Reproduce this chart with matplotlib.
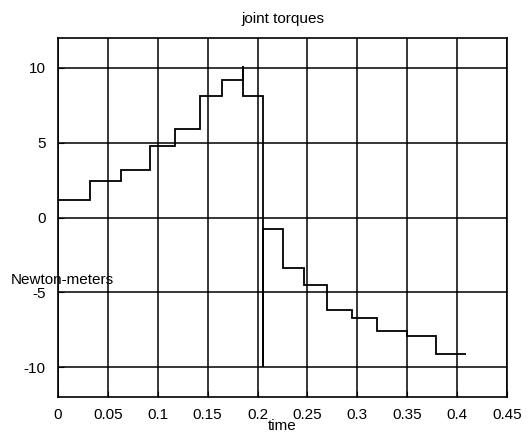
import matplotlib
matplotlib.use('Agg')
import matplotlib.pyplot as plt

# step edges (s) and torque level held between consecutive edges (N*m)
# repeated edges give the short spikes seen at 0.185 s and 0.205 s
edges = [0.0, 0.032, 0.063, 0.092, 0.117, 0.142, 0.164, 0.185, 0.185,
         0.205, 0.205, 0.226, 0.247, 0.270, 0.295, 0.320, 0.350, 0.379, 0.409]
levels = [1.15, 2.45, 3.2, 4.8, 5.9, 8.1, 9.2, 10.1, 8.1,
          -10.0, -0.8, -3.4, -4.5, -6.2, -6.7, -7.6, -7.9, -9.1]

x_ticks = [0, 0.05, 0.1, 0.15, 0.2, 0.25, 0.3, 0.35, 0.4, 0.45]
x_tick_labels = ['0', '0.05', '0.1', '0.15', '0.2', '0.25', '0.3', '0.35', '0.4', '0.45']
y_ticks = [-10, -5, 0, 5, 10]

plt.rcParams['font.family'] = ['Liberation Sans', 'DejaVu Sans']
plt.rcParams['font.size'] = 11
plt.rcParams['axes.unicode_minus'] = False

fig = plt.figure(figsize=(5.29, 4.33), dpi=100)
ax = fig.add_axes([58 / 529, 36 / 433, 449 / 529, 359 / 433])

ax.stairs(levels, edges, color='black', linewidth=1.3, baseline=None)

ax.set_xlim(0, 0.45)
ax.set_ylim(-12, 12)
ax.set_xticks(x_ticks)
ax.set_xticklabels(x_tick_labels)
ax.set_yticks(y_ticks)
ax.grid(True, color='black', linestyle='-', linewidth=1.1)
ax.tick_params(direction='in', length=4, colors='black')
ax.tick_params(axis='x', pad=8)
ax.tick_params(axis='y', pad=9)
for s in ax.spines.values():
    s.set_linewidth(1.2)

ax.set_title('joint torques', fontsize=11, pad=11)
ax.set_xlabel('time', labelpad=-2)
ax.set_ylabel('Newton-meters', rotation=0, ha='center', va='center')
ax.yaxis.set_label_coords(0.01, 0.326)

plt.savefig('out.png', dpi=100)
